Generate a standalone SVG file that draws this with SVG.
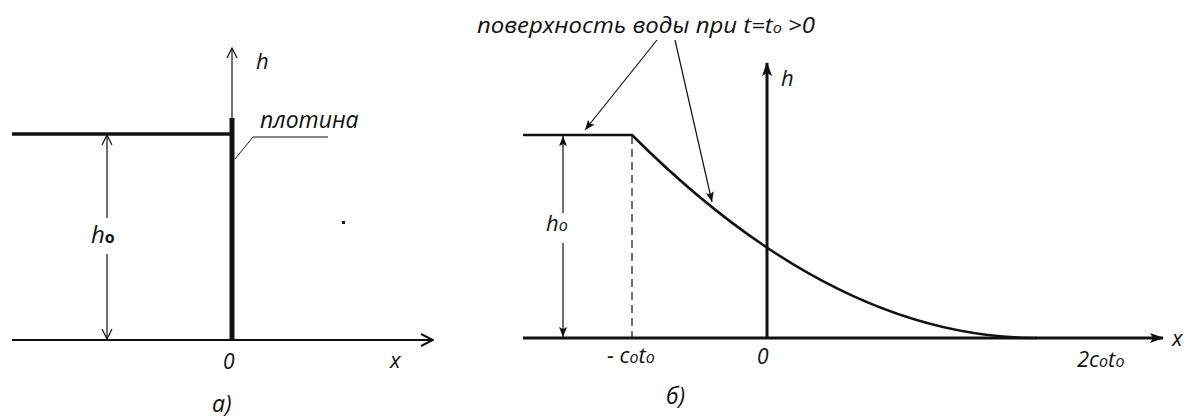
<svg xmlns="http://www.w3.org/2000/svg" width="1187" height="420" viewBox="0 0 1187 420">
<style>
.t{font-family:"Open Sans","Noto Sans",sans-serif;font-style:italic;fill:#111}
.ln{stroke:#111;fill:none}
</style>
<defs>
<marker id="open" viewBox="0 0 12 12" refX="11" refY="6" markerWidth="12" markerHeight="12" markerUnits="userSpaceOnUse" orient="auto-start-reverse">
<path d="M1,1 L11,6 L1,11" fill="none" stroke="#111" stroke-width="1.2"/>
</marker>
<marker id="openBig" viewBox="0 0 14 14" refX="13" refY="7" markerWidth="14" markerHeight="14" markerUnits="userSpaceOnUse" orient="auto">
<path d="M1,1 L13,7 L1,13" fill="none" stroke="#111" stroke-width="2"/>
</marker>
<marker id="fill" viewBox="0 0 14 10" refX="13" refY="5" markerWidth="14" markerHeight="10" markerUnits="userSpaceOnUse" orient="auto-start-reverse">
<path d="M0,0 L14,5 L0,10 L3,5 Z" fill="#111"/>
</marker>
<marker id="fillS" viewBox="0 0 10 8" refX="10" refY="4" markerWidth="10" markerHeight="8" markerUnits="userSpaceOnUse" orient="auto-start-reverse">
<path d="M0,0 L10,4 L0,8 L2,4 Z" fill="#111"/>
</marker>
</defs>
<rect width="1187" height="420" fill="#fff"/>

<g id="panel-a">
<g id="connectors-a">
<line class="ln" x1="12" y1="340" x2="433" y2="340" stroke-width="2.2" marker-end="url(#openBig)"/>
<line class="ln" x1="232" y1="118" x2="232" y2="48" stroke-width="1.2" marker-end="url(#open)"/>
<line class="ln" x1="107" y1="218" x2="107" y2="135" stroke-width="1.2" marker-end="url(#open)"/>
<line class="ln" x1="107" y1="254" x2="107" y2="339" stroke-width="1.2" marker-end="url(#open)"/>
<polyline class="ln" points="235,159 253,137 328,137" stroke-width="1"/>
</g>
<g id="water-a"><line class="ln" x1="12" y1="134" x2="233" y2="134" stroke-width="3.5"/></g>
<g id="dam"><line class="ln" x1="232" y1="118" x2="232" y2="340" stroke-width="5"/></g>
<rect x="342" y="221" width="3" height="3" fill="#111"/>
<text class="t" x="256" y="69" font-size="22">h</text>
<text class="t" x="260" y="128" font-size="23">плотина</text>
<text class="t" x="91" y="243" font-size="24">h<tspan font-size="16" font-weight="bold" font-style="normal">o</tspan></text>
<text class="t" x="223" y="369" font-size="21">0</text>
<text class="t" x="390" y="368" font-size="22">x</text>
<text class="t" x="212" y="412" font-size="23">а)</text>
</g>

<g id="panel-b">
<g id="connectors-b">
<line class="ln" x1="523" y1="338" x2="1163" y2="338" stroke-width="3" marker-end="url(#fill)"/>
<line class="ln" x1="767" y1="338" x2="767" y2="63" stroke-width="3" marker-end="url(#fill)"/>
<line class="ln" x1="632" y1="136" x2="632" y2="337" stroke-width="1.2" stroke-dasharray="8,5"/>
<line class="ln" x1="563" y1="213" x2="563" y2="136" stroke-width="1.2" marker-end="url(#fillS)"/>
<line class="ln" x1="563" y1="243" x2="563" y2="337" stroke-width="1.2" marker-end="url(#fillS)"/>
<line class="ln" x1="657" y1="40" x2="585" y2="130" stroke-width="1.2" marker-end="url(#fillS)"/>
<line class="ln" x1="675" y1="40" x2="712" y2="202" stroke-width="1.2" marker-end="url(#fillS)"/>
</g>
<g id="water-b">
<path class="ln" d="M523,135 L632,135 Q835,338 1037,338" stroke-width="2.5"/>
</g>
<text class="t" x="477" y="33" font-size="22" textLength="338" lengthAdjust="spacingAndGlyphs">поверхность воды при t=t<tspan font-size="15">o</tspan> &gt;0</text>
<text class="t" x="781" y="86" font-size="22">h</text>
<text class="t" x="546" y="231" font-size="22">h<tspan font-size="16">o</tspan></text>
<text class="t" x="607" y="363" font-size="22">- c<tspan font-size="16">o</tspan>t<tspan font-size="16">o</tspan></text>
<text class="t" x="757" y="364" font-size="21">0</text>
<text class="t" x="1077" y="367" font-size="22">2c<tspan font-size="16">o</tspan>t<tspan font-size="16">o</tspan></text>
<text class="t" x="1172" y="346" font-size="22">x</text>
<text class="t" x="666" y="404" font-size="23">б)</text>
</g>
</svg>
